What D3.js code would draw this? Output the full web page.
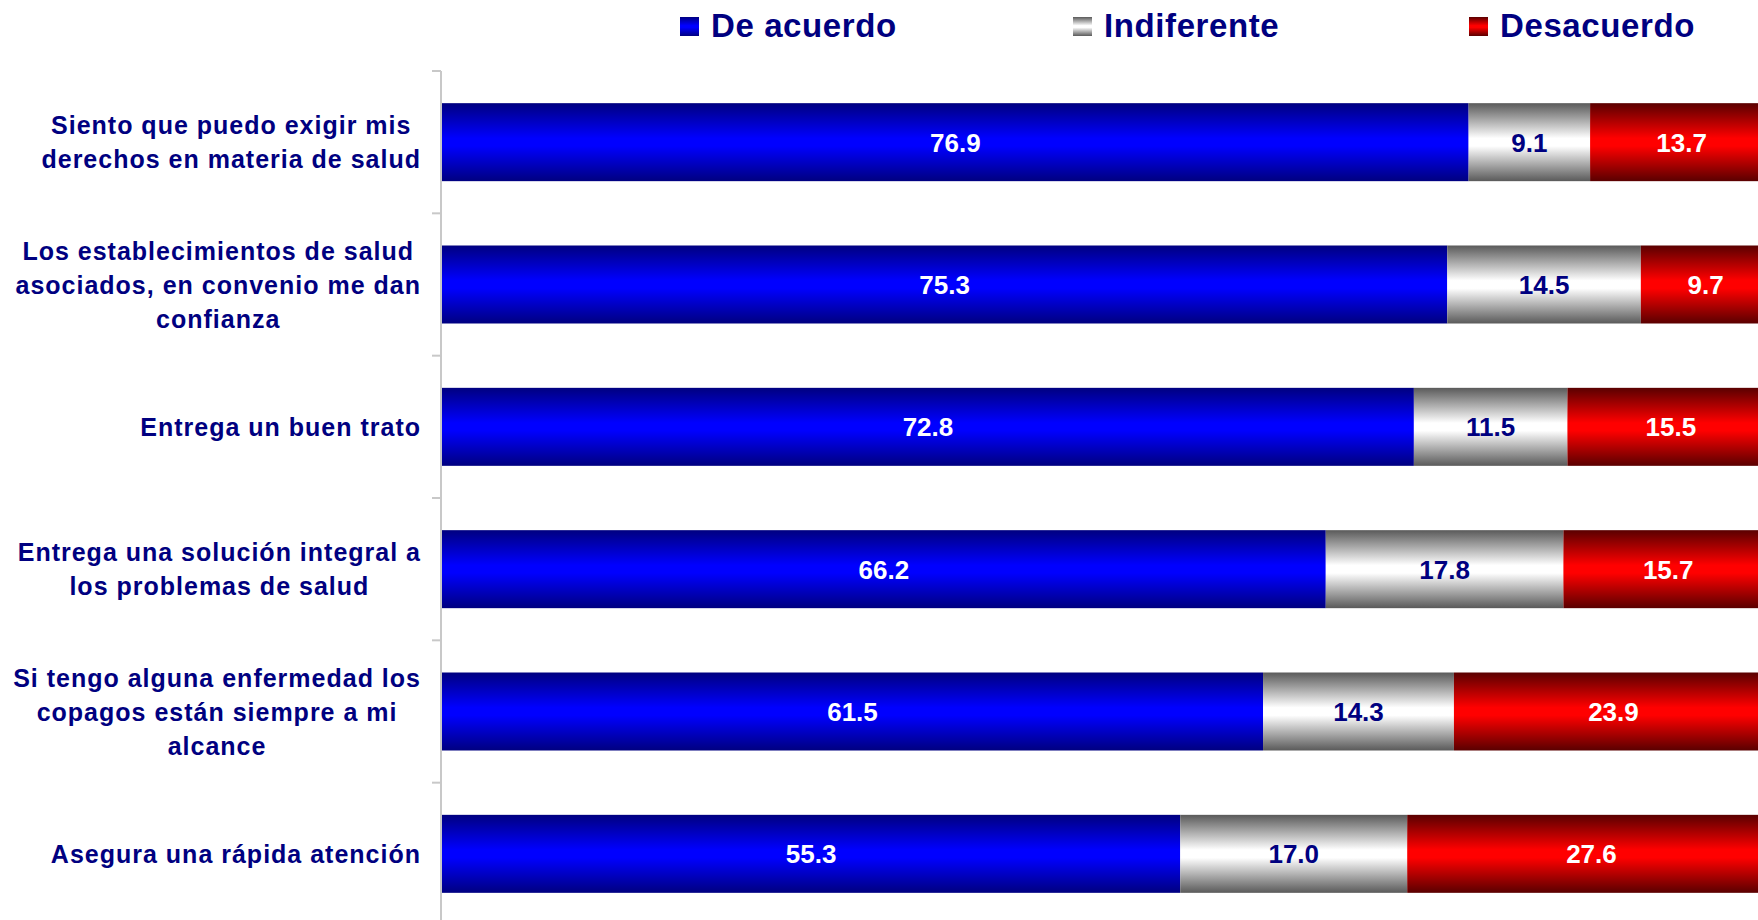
<!DOCTYPE html>
<html>
<head>
<meta charset="utf-8">
<script src="https://d3js.org/d3.v7.min.js"></script>
<style>
  html, body { margin: 0; padding: 0; background: #fff; overflow: hidden; }
  svg { display: block; }
</style>
</head>
<body>
<svg id="chart"></svg>
<script>
// category labels, one entry per line break as in the original
var categories = [
	["Siento que puedo exigir mis", "derechos en materia de salud"],
	["Los establecimientos de salud", "asociados, en convenio me dan", "confianza"],
	["Entrega un buen trato"],
	["Entrega una solución integral a", "los problemas de salud"],
	["Si tengo alguna enfermedad los", "copagos están siempre a mi", "alcance"],
	["Asegura una rápida atención"]
];
var seriesNames = ["De acuerdo", "Indiferente", "Desacuerdo"];
var deAcuerdo   = [76.9, 75.3, 72.8, 66.2, 61.5, 55.3];
var indiferente = [9.1, 14.5, 11.5, 17.8, 14.3, 17.0];
var desacuerdo  = [13.7, 9.7, 15.5, 15.7, 23.9, 27.6];

var width = 1758, height = 920;
var navy = "#000080";

var svg = d3.select("#chart")
	.attr("width", width)
	.attr("height", height);

// gradients: dark at the edges, bright in the middle
var gradColors = [
	["#000080", "#0000ff"],
	["#5a5a5a", "#ffffff"],
	["#5a0000", "#ff0000"]
];
var defs = svg.append("defs");
gradColors.forEach(function (c, i) {
	var g = defs.append("linearGradient")
		.attr("id", "grad" + i)
		.attr("x1", 0).attr("y1", 0).attr("x2", 0).attr("y2", 1);
	g.append("stop").attr("offset", "0%").attr("stop-color", c[0]);
	g.append("stop").attr("offset", "45%").attr("stop-color", c[1]);
	g.append("stop").attr("offset", "55%").attr("stop-color", c[1]);
	g.append("stop").attr("offset", "100%").attr("stop-color", c[0]);
});

var rows = categories.map(function (c, i) {
	return { key: i, lines: c, values: [deAcuerdo[i], indiferente[i], desacuerdo[i]] };
});

var x = d3.scaleLinear().domain([0, 100]).range([442, 1777]);
var y = d3.scaleBand()
	.domain(rows.map(function (d) { return d.key; }))
	.range([71, 925])
	.paddingInner(0.452)
	.paddingOuter(0.226);

// bars
var rowG = svg.append("g").selectAll("g")
	.data(rows)
	.enter().append("g");

var segs = rowG.selectAll("g.seg")
	.data(function (d) {
		var acc = 0;
		return d.values.map(function (v, j) {
			var s = { row: d.key, s: j, v: v, x0: acc, x1: acc + v };
			acc += v;
			return s;
		});
	})
	.enter().append("g").attr("class", "seg");

segs.append("rect")
	.attr("x", function (d) { return x(d.x0); })
	.attr("y", function (d) { return y(d.row); })
	.attr("width", function (d) { return x(d.x1) - x(d.x0); })
	.attr("height", y.bandwidth())
	.attr("fill", function (d) { return "url(#grad" + d.s + ")"; });

segs.append("text")
	.attr("x", function (d) { return (x(d.x0) + x(d.x1)) / 2; })
	.attr("y", function (d) { return y(d.row) + y.bandwidth() / 2; })
	.attr("dy", "0.36em")
	.attr("text-anchor", "middle")
	.attr("font-family", "'Liberation Sans', Arial, sans-serif")
	.attr("font-weight", "bold")
	.attr("font-size", 26)
	.attr("fill", function (d) { return d.s == 1 ? navy : "#ffffff"; })
	.text(function (d) { return d3.format(".1f")(d.v); });

// axis
var axisG = svg.append("g")
	.attr("transform", "translate(441,0)");
axisG.append("line")
	.attr("x1", 0).attr("x2", 0)
	.attr("y1", 71).attr("y2", height)
	.attr("stroke", "#c8c8c8")
	.attr("stroke-width", 2);
axisG.selectAll("line.tick")
	.data(d3.range(rows.length + 1))
	.enter().append("line")
	.attr("class", "tick")
	.attr("x1", -9).attr("x2", 0)
	.attr("y1", function (i) { return 71 + i * y.step(); })
	.attr("y2", function (i) { return 71 + i * y.step(); })
	.attr("stroke", "#c8c8c8")
	.attr("stroke-width", 2);

// category labels: block right-aligned, lines centred in the block
var lineH = 34;
var labelG = svg.append("g").selectAll("g")
	.data(rows)
	.enter().append("g");

labelG.each(function (d) {
	var g = d3.select(this);
	var cy = y(d.key) + y.bandwidth() / 2;
	var texts = g.selectAll("text")
		.data(d.lines)
		.enter().append("text")
		.attr("font-family", "'Liberation Sans', Arial, sans-serif")
		.attr("font-weight", "bold")
		.attr("font-size", 25)
		.attr("letter-spacing", 1)
		.attr("fill", navy)
		.attr("y", function (t, k) { return cy + (k - (d.lines.length - 1) / 2) * lineH; })
		.attr("dy", "0.36em")
		.text(function (t) { return t; });
	var widths = [];
	texts.each(function () { widths.push(this.getComputedTextLength() - 1); });
	var maxW = d3.max(widths);
	texts.attr("x", function (t, k) { return 420 - maxW / 2 - widths[k] / 2; });
});

// legend
var legendX = [680, 1073, 1469];
var legend = svg.append("g").selectAll("g")
	.data(seriesNames)
	.enter().append("g")
	.attr("transform", function (d, i) { return "translate(" + legendX[i] + ",0)"; });

legend.append("rect")
	.attr("x", 0).attr("y", 17)
	.attr("width", 19).attr("height", 19)
	.attr("fill", function (d, i) { return "url(#grad" + i + ")"; });

legend.append("text")
	.attr("x", 31).attr("y", 37)
	.attr("font-family", "'Liberation Sans', Arial, sans-serif")
	.attr("font-weight", "bold")
	.attr("font-size", 33)
	.attr("letter-spacing", 0.6)
	.attr("fill", navy)
	.text(function (d) { return d; });
</script>
</body>
</html>
